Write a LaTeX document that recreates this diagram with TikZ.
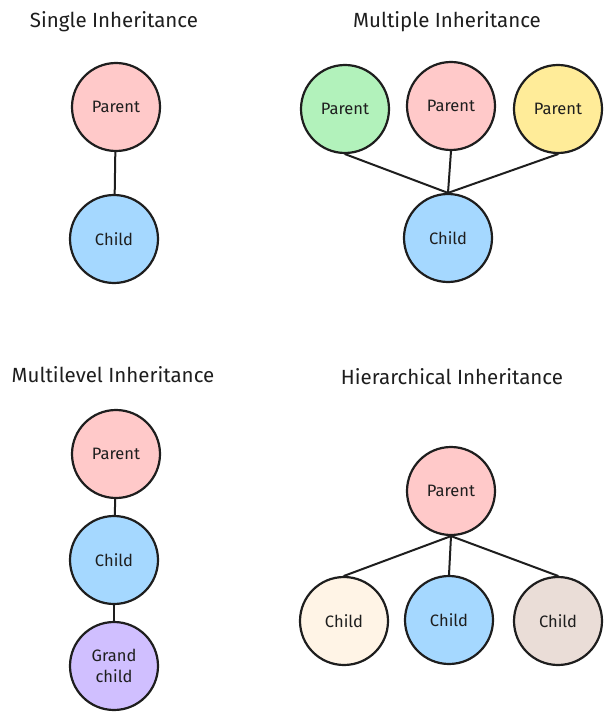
\documentclass[tikz,border=0pt]{standalone}
\usepackage{fontspec}
\setmainfont{Fira Sans}
\definecolor{ink}{HTML}{1E1E1E}
\definecolor{cpink}{HTML}{FFC9C9}
\definecolor{cblue}{HTML}{A5D8FF}
\definecolor{cgreen}{HTML}{B2F2BB}
\definecolor{cyellow}{HTML}{FFEC99}
\definecolor{cpurple}{HTML}{D0BFFF}
\definecolor{ccream}{HTML}{FFF4E6}
\definecolor{cbrown}{HTML}{EADDD7}
\tikzset{
  ball/.style={circle, draw=ink, line width=2.2pt, minimum size=88pt, inner sep=0pt, align=center,
    font=\fontsize{16.5}{21}\selectfont, text=ink},
  title/.style={font=\fontsize{20.5}{24}\selectfont, text=ink, anchor=center},
  link/.style={draw=ink, line width=2pt, line cap=round},
}
\begin{document}
\begin{tikzpicture}[x=1pt,y=-1pt]
\useasboundingbox (0,0) rectangle (612,719);
% Single
\node[title] (t1) at (114,22) {Single Inheritance};
\node[ball, fill=cpink] (sp) at (116,107) {Parent};
\node[ball, fill=cblue] (sc) at (114,239) {Child};
\draw[link] (sp) -- (sc);
% Multiple
\node[title] (t2) at (447,22) {Multiple Inheritance};
\node[ball, fill=cgreen] (mp1) at (345,109) {Parent};
\node[ball, fill=cpink] (mp2) at (451,106) {Parent};
\node[ball, fill=cyellow] (mp3) at (558,109) {Parent};
\node[ball, fill=cblue] (mc) at (448,238) {Child};
\draw[link] (mp1.south) -- (mc.north);
\draw[link] (mp2.south) -- (mc.north);
\draw[link] (mp3.south) -- (mc.north);
% Multilevel
\node[title] (t3) at (113,375) {Multilevel Inheritance};
\node[ball, fill=cpink] (lp) at (116,454) {Parent};
\node[ball, fill=cblue] (lc) at (114,560) {Child};
\node[ball, fill=cpurple] (lg) at (114,666) {Grand\\child};
\draw[link] (lp) -- (lc);
\draw[link] (lc) -- (lg);
% Hierarchical
\node[title] (t4) at (452,377) {Hierarchical Inheritance};
\node[ball, fill=cpink] (hp) at (451,491) {Parent};
\node[ball, fill=ccream] (hc1) at (344,621) {Child};
\node[ball, fill=cblue] (hc2) at (449,620) {Child};
\node[ball, fill=cbrown] (hc3) at (558,621) {Child};
\draw[link] (hp.south) -- (hc1.north);
\draw[link] (hp.south) -- (hc2.north);
\draw[link] (hp.south) -- (hc3.north);
\end{tikzpicture}
\end{document}
